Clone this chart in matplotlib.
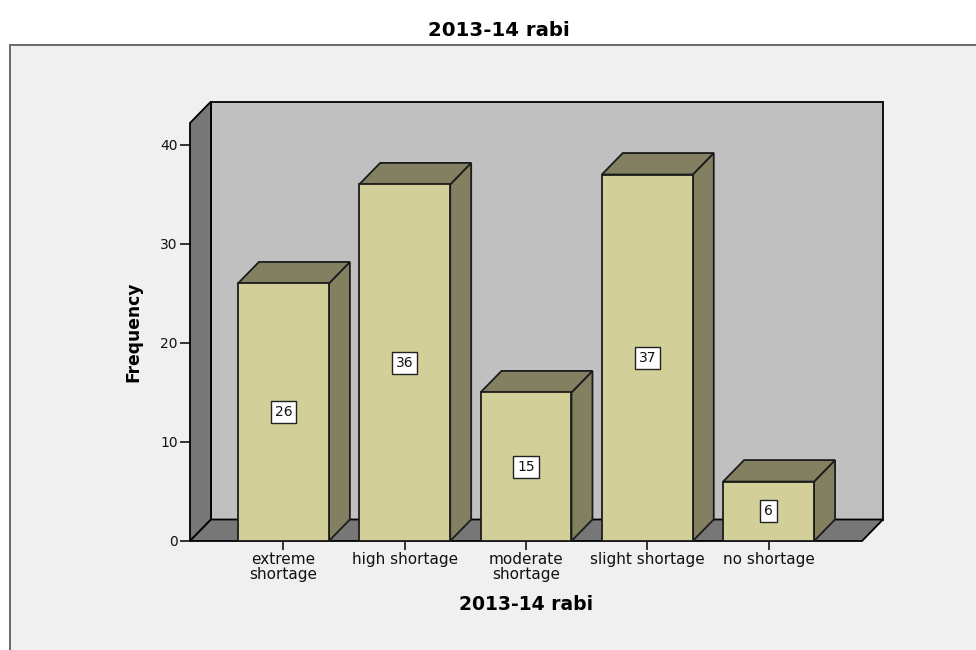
import matplotlib
matplotlib.use("Agg")
import matplotlib.pyplot as plt
from matplotlib.patches import Polygon, Rectangle

# Frequency table for the 2013-14 rabi season
categories = ["extreme\nshortage", "high shortage", "moderate\nshortage",
              "slight shortage", "no shortage"]
frequencies = [26, 36, 15, 37, 6]
y_ticks = [0, 10, 20, 30, 40]
title_text = "2013-14 rabi"
x_title = "2013-14 rabi"
y_title = "Frequency"

# Colours of the pseudo-3D chart
FRONT = "#D3CF98"
SHADE = "#828060"
BACK_WALL = "#C0C0C0"
SIDE_WALL = "#777777"
PANEL = "#F0F0F0"
EDGE = "#1C1C1C"

W, H = 976, 650
fig = plt.figure(figsize=(W / 100, H / 100), dpi=100)
fig.patch.set_facecolor("white")

# Grey panel behind the whole chart
fig.add_artist(Rectangle((9.5 / W, -0.05), 1.2, (H - 45.5) / H + 0.05,
                         transform=fig.transFigure, facecolor=PANEL,
                         edgecolor="#6A6A6A", linewidth=1.4, zorder=0))

fig.text(499 / W, 1 - 30 / H, title_text, ha="center", va="center",
         fontsize=14.2, fontweight="bold", family="DejaVu Sans")

ax = fig.add_axes([190 / W, 109 / H, 672 / W, 418 / H])
ax.patch.set_visible(False)
for s in ax.spines.values():
    s.set_visible(False)

n = len(categories)
x_lo, x_hi = -0.77, n - 1 + 0.77
y_top = 42.2
dx, dy = 0.173, 2.17      # depth offset of the 3D box
bw = 0.75                 # bar width

ax.set_xlim(x_lo, x_hi)
ax.set_ylim(0, y_top)

wall_kw = dict(edgecolor="black", linewidth=1.3, clip_on=False, joinstyle="miter")
ax.add_patch(Polygon([(x_lo + dx, dy), (x_hi + dx, dy), (x_hi + dx, y_top + dy),
                      (x_lo + dx, y_top + dy)], facecolor=BACK_WALL, zorder=1, **wall_kw))
ax.add_patch(Polygon([(x_lo, 0), (x_lo + dx, dy), (x_lo + dx, y_top + dy),
                      (x_lo, y_top)], facecolor=SIDE_WALL, zorder=2, **wall_kw))
ax.add_patch(Polygon([(x_lo, 0), (x_hi, 0), (x_hi + dx, dy), (x_lo + dx, dy)],
                     facecolor=SIDE_WALL, zorder=2, **wall_kw))

bar_kw = dict(edgecolor=EDGE, linewidth=1.3, clip_on=False, joinstyle="miter")
for i, v in enumerate(frequencies):
    l, r = i - bw / 2, i + bw / 2
    ax.add_patch(Polygon([(r, 0), (r + dx, dy), (r + dx, v + dy), (r, v)],
                         facecolor=SHADE, zorder=3, **bar_kw))
    ax.add_patch(Polygon([(l, v), (r, v), (r + dx, v + dy), (l + dx, v + dy)],
                         facecolor=SHADE, zorder=3, **bar_kw))
    ax.add_patch(Rectangle((l, 0), bw, v, facecolor=FRONT, zorder=4, **bar_kw))
    ax.text(i, v / 2, str(v), ha="center", va="center", fontsize=10, zorder=6,
            color="#111111",
            bbox=dict(boxstyle="square,pad=0.28", facecolor="white",
                      edgecolor="#222222", linewidth=1.0))

ax.set_yticks(y_ticks)
ax.set_yticklabels([str(t) for t in y_ticks])
ax.set_xticks(range(n))
ax.set_xticklabels(categories, linespacing=0.95)
ax.tick_params(axis="y", length=7.2, width=1.1, pad=1.5, labelsize=10,
               color="black", labelcolor="#111111")
ax.tick_params(axis="x", length=6.5, width=1.1, pad=1.5, labelsize=11,
               color="black", labelcolor="#111111")

ax.set_xlabel(x_title, fontsize=13.5, fontweight="bold", va="center")
ax.xaxis.set_label_coords(0.5, -64 / 418)
ax.set_ylabel(y_title, fontsize=12.3, fontweight="bold", va="center")
ax.yaxis.set_label_coords(-57 / 672, 0.5)

fig.savefig("out.png", dpi=100, facecolor=fig.get_facecolor())
